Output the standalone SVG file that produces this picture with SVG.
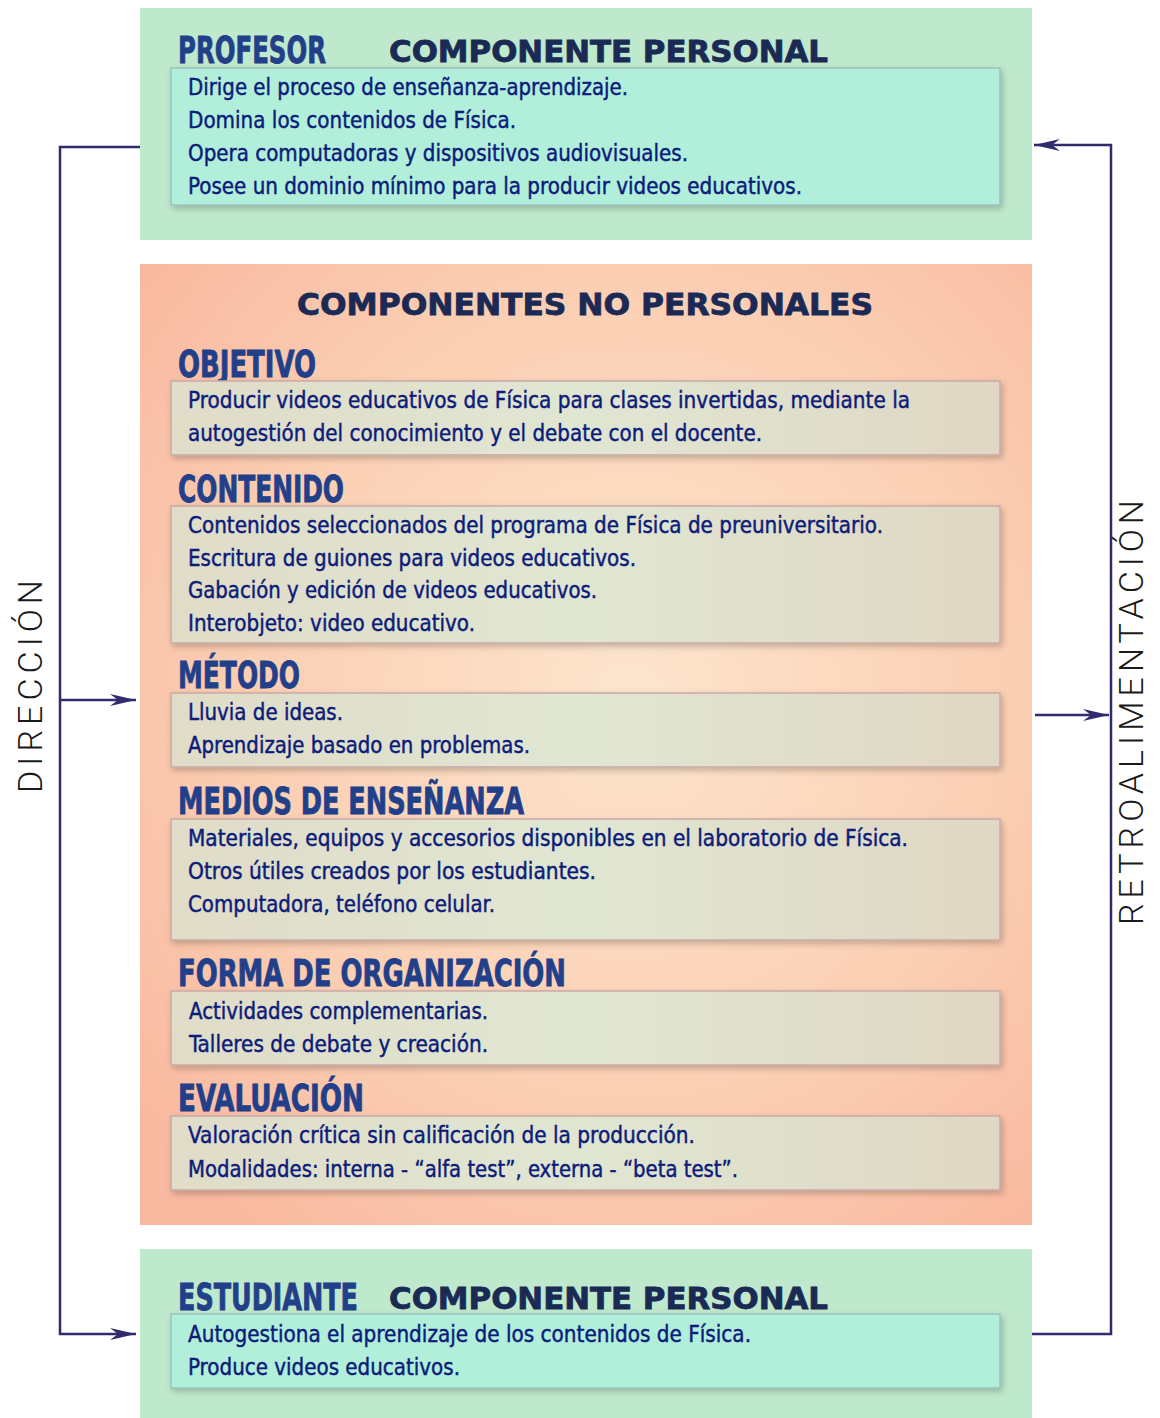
<svg xmlns="http://www.w3.org/2000/svg" width="1160" height="1418" viewBox="0 0 1160 1418">
<defs>
<style>
.green{fill:#bfe9cc}
.ibox-g{fill:#b2efdb;stroke:#99c2c0;stroke-width:1.5;filter:url(#sh)}
.ibox-o{fill:url(#ig);stroke:#c9aaa8;stroke-width:1.5;filter:url(#sh)}
.hd{font-family:"DejaVu Sans Condensed","Liberation Sans Narrow","Liberation Sans",sans-serif;font-weight:bold;font-size:37px;fill:#22408a;stroke:#22408a;stroke-width:0.8;font-stretch:condensed}
.wide{font-family:"DejaVu Sans","Liberation Sans",sans-serif;font-weight:bold;font-size:30px;fill:#1b2a55;stroke:#1b2a55;stroke-width:0.8}
.tx{font-family:"DejaVu Sans Condensed","Liberation Sans Narrow","Liberation Sans",sans-serif;font-size:23.5px;fill:#0c1c7a;stroke:#0c1c7a;stroke-width:0.45;font-stretch:condensed}
.vt{font-family:Roboto,"Open Sans",Lato,"Liberation Sans",sans-serif;font-size:34px;fill:#1a1a1a;font-weight:300}
.con{fill:none;stroke:#2f2b6e;stroke-width:2.5}
</style>
<radialGradient id="og" cx="0.55" cy="0.45" r="0.7">
<stop offset="0" stop-color="#fde5cd"/>
<stop offset="0.6" stop-color="#fbcfb3"/>
<stop offset="1" stop-color="#f9b9a0"/>
</radialGradient>
<linearGradient id="ig" x1="0" y1="0" x2="1" y2="0">
<stop offset="0" stop-color="#e0dcc8"/>
<stop offset="0.5" stop-color="#e0e6d2"/>
<stop offset="1" stop-color="#e0d7c4"/>
</linearGradient>
<filter id="sh" x="-5%" y="-20%" width="110%" height="140%">
<feDropShadow dx="2" dy="3" stdDeviation="3" flood-color="#000" flood-opacity="0.22"/>
</filter>
<marker id="ah" markerUnits="userSpaceOnUse" markerWidth="28" markerHeight="14" refX="26" refY="7" orient="auto">
<path d="M0,1 L26,7 L0,13 L8,7 Z" fill="#2f2b6e"/>
</marker>
</defs>

<g id="connectors">
<path class="con" d="M140,147 H60 V1334 H136" marker-end="url(#ah)"/>
<path class="con" d="M60,700 H136" marker-end="url(#ah)"/>
<path class="con" d="M1030,1334 H1111 V145 H1034" marker-end="url(#ah)"/>
<path class="con" d="M1035,715 H1109" marker-end="url(#ah)"/>
</g>

<g id="direccion">
<text class="vt" transform="translate(42,793) rotate(-90)" textLength="213" lengthAdjust="spacing">DIRECCIÓN</text>
</g>
<g id="retroalimentacion">
<text class="vt" transform="translate(1143,925) rotate(-90)" textLength="425" lengthAdjust="spacing">RETROALIMENTACIÓN</text>
</g>

<g id="profesor">
<rect class="green" x="140" y="8" width="892" height="232"/>
<text class="hd" x="178" y="63" textLength="148" lengthAdjust="spacingAndGlyphs">PROFESOR</text>
<text class="wide" x="389" y="62" textLength="439" lengthAdjust="spacingAndGlyphs">COMPONENTE PERSONAL</text>
<rect class="ibox-g" x="171" y="68" width="829" height="137"/>
<text class="tx" x="188" y="95" textLength="440" lengthAdjust="spacingAndGlyphs">Dirige el proceso de enseñanza-aprendizaje.</text>
<text class="tx" x="188" y="128" textLength="328" lengthAdjust="spacingAndGlyphs">Domina los contenidos de Física.</text>
<text class="tx" x="188" y="161" textLength="500" lengthAdjust="spacingAndGlyphs">Opera computadoras y dispositivos audiovisuales.</text>
<text class="tx" x="188" y="194" textLength="614" lengthAdjust="spacingAndGlyphs">Posee un dominio mínimo para la producir videos educativos.</text>
</g>

<g id="no-personales">
<rect x="140" y="264" width="892" height="961" fill="url(#og)"/>
<text class="wide" x="297" y="315" font-size="31" textLength="576" lengthAdjust="spacingAndGlyphs">COMPONENTES NO PERSONALES</text>
</g>

<g id="objetivo">
<text class="hd" x="178" y="377" textLength="138" lengthAdjust="spacingAndGlyphs">OBJETIVO</text>
<rect class="ibox-o" x="171" y="381" width="829" height="74"/>
<text class="tx" x="188" y="408" textLength="722" lengthAdjust="spacingAndGlyphs">Producir videos educativos de Física para clases invertidas, mediante la</text>
<text class="tx" x="188" y="441" textLength="574" lengthAdjust="spacingAndGlyphs">autogestión del conocimiento y el debate con el docente.</text>
</g>

<g id="contenido">
<text class="hd" x="178" y="502" textLength="166" lengthAdjust="spacingAndGlyphs">CONTENIDO</text>
<rect class="ibox-o" x="171" y="506" width="829" height="137"/>
<text class="tx" x="188" y="533" textLength="695" lengthAdjust="spacingAndGlyphs">Contenidos seleccionados del programa de Física de preuniversitario.</text>
<text class="tx" x="188" y="566" textLength="448" lengthAdjust="spacingAndGlyphs">Escritura de guiones para videos educativos.</text>
<text class="tx" x="188" y="598" textLength="409" lengthAdjust="spacingAndGlyphs">Gabación y edición de videos educativos.</text>
<text class="tx" x="188" y="631" textLength="287" lengthAdjust="spacingAndGlyphs">Interobjeto: video educativo.</text>
</g>

<g id="metodo">
<text class="hd" x="178" y="688" textLength="122" lengthAdjust="spacingAndGlyphs">MÉTODO</text>
<rect class="ibox-o" x="171" y="693" width="829" height="74"/>
<text class="tx" x="188" y="720" textLength="155" lengthAdjust="spacingAndGlyphs">Lluvia de ideas.</text>
<text class="tx" x="188" y="753" textLength="342" lengthAdjust="spacingAndGlyphs">Aprendizaje basado en problemas.</text>
</g>

<g id="medios">
<text class="hd" x="178" y="814" textLength="346" lengthAdjust="spacingAndGlyphs">MEDIOS DE ENSEÑANZA</text>
<rect class="ibox-o" x="171" y="819" width="829" height="121"/>
<text class="tx" x="188" y="846" textLength="720" lengthAdjust="spacingAndGlyphs">Materiales, equipos y accesorios disponibles en el laboratorio de Física.</text>
<text class="tx" x="188" y="879" textLength="408" lengthAdjust="spacingAndGlyphs">Otros útiles creados por los estudiantes.</text>
<text class="tx" x="188" y="912" textLength="307" lengthAdjust="spacingAndGlyphs">Computadora, teléfono celular.</text>
</g>

<g id="forma">
<text class="hd" x="178" y="986" textLength="388" lengthAdjust="spacingAndGlyphs">FORMA DE ORGANIZACIÓN</text>
<rect class="ibox-o" x="171" y="991" width="829" height="74"/>
<text class="tx" x="189" y="1019" textLength="299" lengthAdjust="spacingAndGlyphs">Actividades complementarias.</text>
<text class="tx" x="189" y="1052" textLength="299" lengthAdjust="spacingAndGlyphs">Talleres de debate y creación.</text>
</g>

<g id="evaluacion">
<text class="hd" x="178" y="1111" textLength="186" lengthAdjust="spacingAndGlyphs">EVALUACIÓN</text>
<rect class="ibox-o" x="171" y="1116" width="829" height="74"/>
<text class="tx" x="188" y="1143" textLength="507" lengthAdjust="spacingAndGlyphs">Valoración crítica sin calificación de la producción.</text>
<text class="tx" x="188" y="1177" textLength="550" lengthAdjust="spacingAndGlyphs">Modalidades: interna - “alfa test”, externa - “beta test”.</text>
</g>

<g id="estudiante">
<rect class="green" x="140" y="1249" width="892" height="169"/>
<text class="hd" x="178" y="1310" textLength="180" lengthAdjust="spacingAndGlyphs">ESTUDIANTE</text>
<text class="wide" x="389" y="1309" textLength="439" lengthAdjust="spacingAndGlyphs">COMPONENTE PERSONAL</text>
<rect class="ibox-g" x="171" y="1314" width="829" height="74"/>
<text class="tx" x="188" y="1342" textLength="563" lengthAdjust="spacingAndGlyphs">Autogestiona el aprendizaje de los contenidos de Física.</text>
<text class="tx" x="188" y="1375" textLength="272" lengthAdjust="spacingAndGlyphs">Produce videos educativos.</text>
</g>
</svg>
